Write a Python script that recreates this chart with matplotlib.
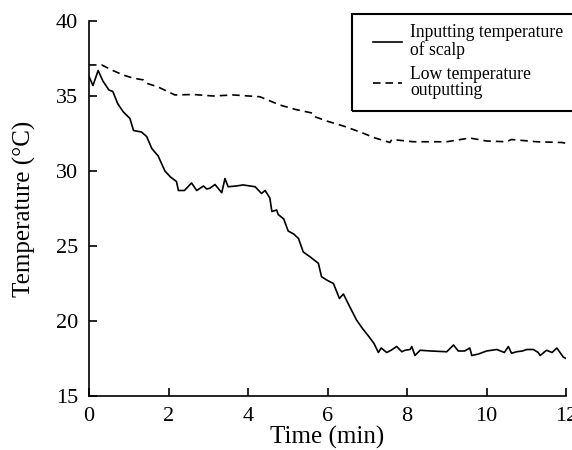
import matplotlib
matplotlib.use("Agg")
import matplotlib.pyplot as plt
from matplotlib.patches import Rectangle

# scalp input temperature (solid)
t_scalp = [0.0, 0.1, 0.23, 0.35, 0.5, 0.6, 0.72, 0.86, 1.03, 1.12, 1.32, 1.45,
           1.58, 1.74, 1.91, 2.05, 2.2, 2.25, 2.4, 2.58, 2.71, 2.88, 2.96, 3.04,
           3.17, 3.34, 3.42, 3.5, 3.7, 3.88, 4.18, 4.34, 4.43, 4.55, 4.6, 4.72,
           4.76, 4.9, 5.01, 5.15, 5.27, 5.39, 5.55, 5.72, 5.77, 5.85, 6.0, 6.15,
           6.3, 6.4, 6.55, 6.73, 6.88, 7.03, 7.17, 7.28, 7.35, 7.49, 7.6, 7.74,
           7.87, 7.95, 8.08, 8.12, 8.2, 8.33, 8.6, 9.0, 9.17, 9.29, 9.45, 9.58,
           9.63, 9.8, 10.0, 10.26, 10.45, 10.55, 10.63, 10.76, 10.9, 11.01, 11.18,
           11.3, 11.35, 11.51, 11.65, 11.77, 11.93, 12.0]
temp_scalp = [36.3, 35.7, 36.7, 36.0, 35.4, 35.3, 34.5, 33.95, 33.5, 32.7, 32.6, 32.3,
              31.5, 31.0, 30.0, 29.6, 29.3, 28.7, 28.7, 29.2, 28.7, 29.0, 28.8, 28.85,
              29.1, 28.55, 29.5, 28.95, 29.0, 29.07, 28.95, 28.5, 28.7, 28.2, 27.3, 27.4,
              27.1, 26.8, 26.0, 25.8, 25.5, 24.6, 24.3, 23.95, 23.85, 22.95, 22.7, 22.5,
              21.5, 21.8, 21.0, 20.07, 19.5, 19.0, 18.5, 17.9, 18.2, 17.9, 18.05, 18.3,
              17.95, 18.05, 18.1, 18.3, 17.7, 18.05, 18.0, 17.95, 18.4, 18.0, 18.0, 18.2,
              17.7, 17.8, 18.0, 18.1, 17.9, 18.3, 17.85, 17.95, 18.0, 18.1, 18.1,
              17.9, 17.7, 18.05, 17.9, 18.2, 17.6, 17.5]

# low temperature output (dashed)
t_low = [0, 0.32, 0.6, 0.86, 1.1, 1.37, 1.45, 1.74, 2.16, 2.62, 3.13, 3.63, 4.3,
         4.8, 5.2, 5.64, 5.7, 6.02, 6.4, 6.82, 7.2, 7.57, 7.62, 8.16, 9.0, 9.58,
         10.0, 10.5, 10.63, 11.26, 11.9, 12.0]
temp_low = [37.07, 37.07, 36.7, 36.4, 36.2, 36.07, 35.85, 35.6, 35.07, 35.1, 35.0,
            35.07, 34.95, 34.4, 34.1, 33.85, 33.6, 33.3, 33.0, 32.6, 32.2, 31.9,
            32.1, 31.95, 31.95, 32.2, 32.0, 31.95, 32.1, 31.95, 31.9, 31.85]

labels = ["Inputting temperature\nof scalp", "Low temperature\noutputting"]

plt.rcParams["font.family"] = ["Liberation Serif", "DejaVu Serif"]

W, H = 572, 450
fig = plt.figure(figsize=(W / 100, H / 100), dpi=100)
ax = fig.add_axes([89 / W, 1 - 396 / H, 477 / W, 375 / H])

ax.plot(t_scalp, temp_scalp, color="black", lw=1.2, label=labels[0])
ax.plot(t_low, temp_low, color="black", lw=1.2, ls=(0, (4.5, 3)), label=labels[1])

ax.set_xlim(0, 12)
ax.set_ylim(15, 40)
ax.set_xticks([0, 2, 4, 6, 8, 10, 12])
ax.set_yticks([15, 20, 25, 30, 35, 40])
ax.spines["top"].set_visible(False)
ax.spines["right"].set_visible(False)
for s in ("left", "bottom"):
    ax.spines[s].set_linewidth(1.2)
ax.tick_params(direction="in", length=6, width=1.2, labelsize=16, pad=8)

ax.set_xlabel("Time (min)", fontsize=18, labelpad=0)
ax.set_ylabel("Temperature (°C)", fontsize=18, labelpad=14)

# legend box (runs past the right edge, as in the original)
fig.add_artist(Rectangle((351.5 / W, 1 - 110.5 / H), 240 / W, 97 / H,
                         transform=fig.transFigure, fill=False,
                         edgecolor="black", lw=1.5, clip_on=False))
leg = fig.legend(loc="upper left", bbox_to_anchor=(373 / W, 1 - 24 / H),
                 fontsize=12.7, frameon=False, handlelength=1.65,
                 handletextpad=0.45, labelspacing=0.42, borderpad=0,
                 borderaxespad=0)
texts = leg.get_texts()
texts[0].set_linespacing(1.0)
texts[1].set_linespacing(0.92)

fig.savefig("out.png", dpi=100)
